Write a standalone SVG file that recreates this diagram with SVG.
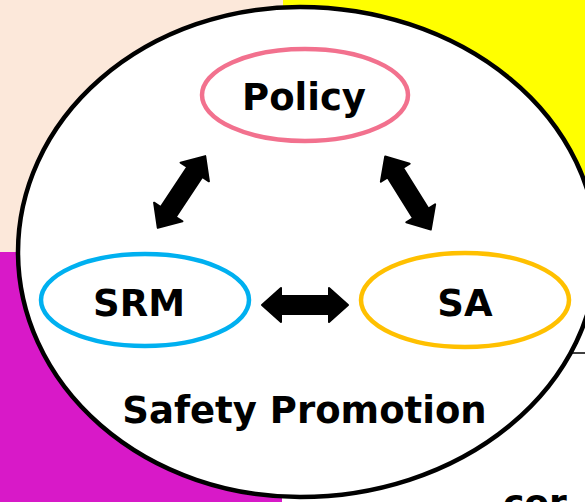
<svg xmlns="http://www.w3.org/2000/svg" width="585" height="502" viewBox="0 0 585 502">
  <style>
    .lbl { font-family: "DejaVu Sans", Verdana, "Liberation Sans", sans-serif; font-weight: bold; fill: #000; text-anchor: middle; }
    .ring { fill: #fff; stroke-width: 4.5; }
    .arrow { fill: #000; stroke: #000; stroke-width: 2; stroke-linejoin: round; }
  </style>
  <defs>
    <!-- double-headed block arrow, centred on the origin, pointing along x -->
    <path id="dbl-arrow" d="M -43,0 L -24,-17 L -24,-9 L 24,-9 L 24,-17 L 43,0 L 24,17 L 24,9 L -24,9 L -24,17 Z"/>
  </defs>

  <!-- quadrant backdrop -->
  <g id="backdrop">
    <rect x="0" y="0" width="585" height="502" fill="#ffffff"/>
    <rect x="0" y="0" width="283" height="252" fill="#fce8da"/>
    <rect x="283" y="0" width="302" height="252" fill="#ffff00"/>
    <rect x="0" y="252" width="282" height="250" fill="#d819c8"/>
    <line x1="555" y1="353" x2="585" y2="353" stroke="#000" stroke-width="1.5"/>
    <text class="lbl" x="503" y="515" font-size="36" style="text-anchor:start">cor</text>
  </g>

  <!-- outer ring: safety promotion -->
  <g id="safety-promotion">
    <path d="M 18,252 A 282 245 0 0 1 300,7 A 297 245 0 0 1 597,252 A 297 245 0 0 1 300,497 A 282 245 0 0 1 18,252 Z" fill="#fff" stroke="#000" stroke-width="4.5"/>
    <text class="lbl" x="304.5" y="423" font-size="37">Safety Promotion</text>
  </g>

  <g id="policy">
    <ellipse class="ring" cx="305" cy="95" rx="103" ry="46" stroke="#f2718e"/>
    <text class="lbl" x="304" y="110" font-size="37">Policy</text>
  </g>

  <g id="srm">
    <ellipse class="ring" cx="145" cy="300" rx="104" ry="46" stroke="#00b0f0"/>
    <text class="lbl" x="139" y="316" font-size="37">SRM</text>
  </g>

  <g id="sa">
    <ellipse class="ring" cx="465" cy="300" rx="104" ry="47" stroke="#ffc000"/>
    <text class="lbl" x="465" y="316" font-size="37">SA</text>
  </g>

  <g id="connectors">
    <use href="#dbl-arrow" class="arrow" transform="translate(181.5,192) rotate(-56.5)"/>
    <use href="#dbl-arrow" class="arrow" transform="translate(408,193) rotate(58)"/>
    <use href="#dbl-arrow" class="arrow" transform="translate(305,305)"/>
  </g>
</svg>
